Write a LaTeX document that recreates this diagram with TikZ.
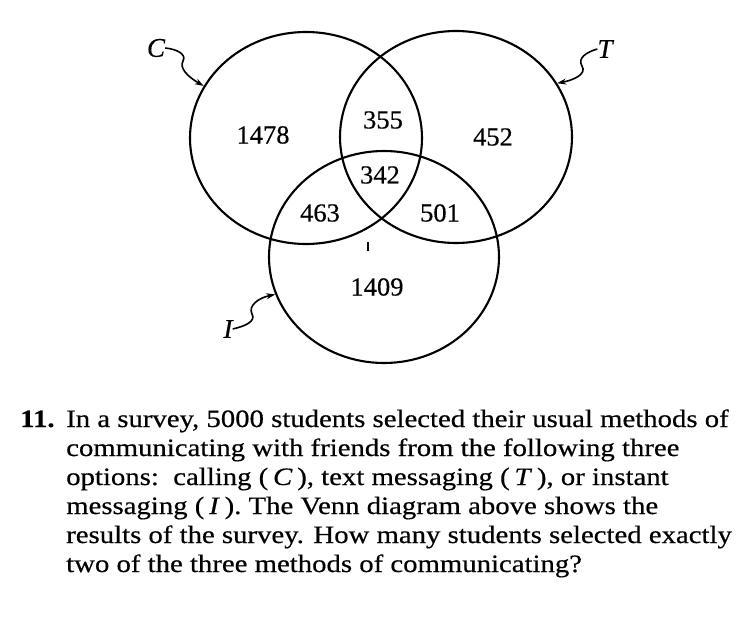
\documentclass[tikz,border=0pt]{standalone}
\usepackage{fontspec}
\setmainfont{Liberation Serif}[FakeBold=0.4]
\usetikzlibrary{shapes.geometric,arrows.meta}
\tikzset{
  setc/.style={draw=black,line width=2.1pt,ellipse,minimum width=232pt,minimum height=212pt,inner sep=0pt},
  num/.style={inner sep=0pt,font=\fontsize{26}{26}\selectfont,xscale=1.02},
  lab/.style={inner sep=0pt,font=\fontsize{27}{27}\selectfont\itshape},
  squig/.style={line width=1.6pt,-{Stealth[length=9pt,width=6pt]}},
  txt/.style={inner sep=0pt,anchor=base west,font=\fontsize{25}{25}\selectfont,xscale=1.15},
}
\begin{document}
\begin{tikzpicture}[x=1pt,y=-1pt]
\useasboundingbox[fill=white] (0,0) rectangle (742,639);
\node[setc] (C) at (306,138) {};
\node[setc] (T) at (456,137) {};
\node[setc,minimum width=230pt] (I) at (384,257) {};
\node[num] (n1) at (263,135) {1478};
\node[num] (n2) at (383,120) {355};
\node[num] (n3) at (493,137) {452};
\node[num] (n4) at (380,175) {342};
\node[num] (n5) at (320,213) {463};
\node[num] (n6) at (440,213) {501};
\node[num] (n7) at (377,287) {1409};
\node[lab] (lC) at (156,48) {C};
\node[lab] (lT) at (605,49) {T};
\node[lab] (lI) at (228,329) {I};
\coordinate (tk1) at (368,242);
\coordinate (tk2) at (368,251);
\draw[line width=1.4pt] (tk1) -- (tk2);
\draw[squig] (lC.east) .. controls (176,49) and (187,54) .. (183,61) .. controls (179,68) and (188,77) .. (C.153);
\draw[squig] (lT.west) .. controls (587,52) and (577,58) .. (582,66) .. controls (587,74) and (574,80) .. (T.28);
\draw[squig] (lI.east) .. controls (246,326) and (256,321) .. (252,314) .. controls (248,306) and (258,298) .. (I.199);
\node[txt,font=\fontsize{25}{25}\selectfont\bfseries] (q) at (20,427) {11.};
\node[txt] (t1) at (66,427) {In a survey, 5000 students selected their usual methods of};
\node[txt] (t2) at (66,456) {communicating with friends from the following three};
\node[txt] (t3) at (66,485) {options:\ \ calling (\,\textit{C}\,), text messaging (\,\textit{T}\,), or instant};
\node[txt] (t4) at (66,514) {messaging (\,\textit{I}\,). The Venn diagram above shows the};
\node[txt] (t5) at (66,543) {results of the survey. How many students selected exactly};
\node[txt] (t6) at (66,572) {two of the three methods of communicating?};
\end{tikzpicture}
\end{document}
